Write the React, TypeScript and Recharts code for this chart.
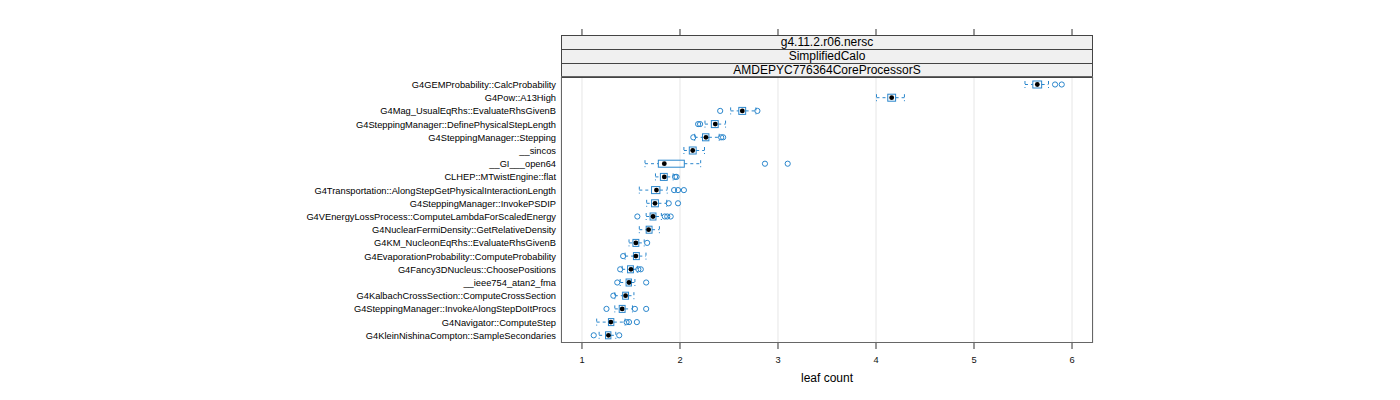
import React from "react";
import { Bar, CartesianGrid, ComposedChart, XAxis, YAxis } from "recharts";

const categories = [
  "G4GEMProbability::CalcProbability",
  "G4Pow::A13High",
  "G4Mag_UsualEqRhs::EvaluateRhsGivenB",
  "G4SteppingManager::DefinePhysicalStepLength",
  "G4SteppingManager::Stepping",
  "__sincos",
  "__GI___open64",
  "CLHEP::MTwistEngine::flat",
  "G4Transportation::AlongStepGetPhysicalInteractionLength",
  "G4SteppingManager::InvokePSDIP",
  "G4VEnergyLossProcess::ComputeLambdaForScaledEnergy",
  "G4NuclearFermiDensity::GetRelativeDensity",
  "G4KM_NucleonEqRhs::EvaluateRhsGivenB",
  "G4EvaporationProbability::ComputeProbability",
  "G4Fancy3DNucleus::ChoosePositions",
  "__ieee754_atan2_fma",
  "G4KalbachCrossSection::ComputeCrossSection",
  "G4SteppingManager::InvokeAlongStepDoItProcs",
  "G4Navigator::ComputeStep",
  "G4KleinNishinaCompton::SampleSecondaries",
];

const lowerWhisker = [5.52, 4.005, 2.517, 2.255, 2.15, 2.04, 1.643, 1.75, 1.585, 1.66, 1.655, 1.585, 1.48, 1.44, 1.41, 1.39, 1.335, 1.335, 1.15, 1.175];
const lowerQuartile = [5.6, 4.12, 2.6, 2.32, 2.23, 2.095, 1.779, 1.8, 1.71, 1.71, 1.695, 1.655, 1.52, 1.525, 1.465, 1.45, 1.415, 1.38, 1.27, 1.24];
const medians = [5.646, 4.16, 2.636, 2.36, 2.265, 2.13, 1.84, 1.84, 1.76, 1.745, 1.725, 1.68, 1.55, 1.55, 1.5, 1.48, 1.445, 1.41, 1.295, 1.27];
const upperQuartile = [5.69, 4.2, 2.67, 2.39, 2.295, 2.165, 2.044, 1.87, 1.795, 1.78, 1.755, 1.715, 1.58, 1.585, 1.525, 1.505, 1.475, 1.44, 1.325, 1.295];
const upperWhisker = [5.76, 4.29, 2.775, 2.465, 2.4, 2.25, 2.211, 1.93, 1.87, 1.865, 1.81, 1.79, 1.635, 1.653, 1.565, 1.54, 1.53, 1.515, 1.44, 1.345];
const outliers = [
  [5.827, 5.895],
  [],
  [2.41, 2.79],
  [2.185, 2.205],
  [2.136, 2.42, 2.44],
  [],
  [2.867, 3.099],
  [1.95, 1.965],
  [1.94, 1.98, 2.04],
  [1.885, 1.98],
  [1.565, 1.845, 1.87, 1.905],
  [],
  [1.665],
  [1.42],
  [1.39, 1.575, 1.6],
  [1.36, 1.655],
  [1.32],
  [1.25, 1.54, 1.655],
  [1.455, 1.48, 1.56],
  [1.12, 1.38],
];

const xTicks = [1, 2, 3, 4, 5, 6];
const strips = ["g4.11.2.r06.nersc", "SimplifiedCalo", "AMDEPYC776364CoreProcessorS"];

const rows = categories.map((name, i) => ({
  name,
  wl: lowerWhisker[i],
  q1: lowerQuartile[i],
  med: medians[i],
  q3: upperQuartile[i],
  wh: upperWhisker[i],
  out: outliers[i],
}));

const BLUE = "#2a86cc";

function BoxShape(props: any) {
  const { x, y, width, height, payload } = props;
  if (x == null || width == null) return null;
  const x0 = width >= 0 ? x : x + width;
  const w = Math.abs(width);
  const lo = payload.wl;
  const hi = payload.wh;
  const px = (v: number) => x0 + ((v - lo) / (hi - lo)) * w;
  const cy = y + height / 2;
  const dash = "3 3";
  return (
    <g>
      <line x1={px(payload.wl)} x2={px(payload.q1)} y1={cy} y2={cy} stroke={BLUE} strokeDasharray={dash} />
      <line x1={px(payload.q3)} x2={px(payload.wh)} y1={cy} y2={cy} stroke={BLUE} strokeDasharray={dash} />
      <line x1={px(payload.wl)} x2={px(payload.wl)} y1={y} y2={y + height} stroke={BLUE} strokeDasharray={dash} />
      <line x1={px(payload.wh)} x2={px(payload.wh)} y1={y} y2={y + height} stroke={BLUE} strokeDasharray={dash} />
      <rect x={px(payload.q1)} y={y} width={px(payload.q3) - px(payload.q1)} height={height} fill="none" stroke={BLUE} />
      <circle cx={px(payload.med)} cy={cy} r={2.4} fill="#000" />
      {payload.out.map((v: number, k: number) => (
        <circle key={k} cx={px(v)} cy={cy} r={2.6} fill="none" stroke={BLUE} />
      ))}
    </g>
  );
}

function TopTick(props: any) {
  const { x } = props;
  return <line x1={x} x2={x} y1={21} y2={27} stroke="#333" />;
}

export default function App() {
  return (
    <div style={{ position: "relative", width: 1392, height: 392, fontFamily: "'Liberation Sans', Arial, sans-serif" }}>
      <ComposedChart
        width={1392}
        height={392}
        data={rows}
        layout="vertical"
        margin={{ top: 63, right: 307, bottom: 0, left: 0 }}
      >
        <CartesianGrid horizontal={false} stroke="#e6e6e6" />
        <XAxis
          type="number"
          domain={[0.786, 6.214]}
          ticks={xTicks}
          allowDataOverflow
          axisLine={false}
          tickSize={6}
          tickMargin={7}
          tickLine={{ stroke: "#333" }}
          tick={{ fontSize: 9.3, fill: "#111" }}
          height={57}
          label={{ value: "leaf count", position: "insideBottom", offset: 18, fontSize: 12, fill: "#000" }}
        />
        <XAxis
          xAxisId="top"
          orientation="top"
          type="number"
          domain={[0.786, 6.214]}
          ticks={xTicks}
          allowDataOverflow
          axisLine={false}
          tickLine={false}
          height={6}
          tick={<TopTick />}
        />
        <YAxis
          type="category"
          dataKey="name"
          width={553}
          interval={0}
          axisLine={false}
          tickLine={false}
          tickSize={5}
          tickMargin={0}
          padding={{ top: 1, bottom: 1 }}
          tick={{ fontSize: 9.3, fill: "#000" }}
        />
        <Bar
          dataKey={(d: any) => [d.wl, d.wh]}
          barSize={7}
          shape={<BoxShape />}
          isAnimationActive={false}
        />
      </ComposedChart>
      {strips.map((s, i) => (
        <div
          key={s}
          style={{
            position: "absolute",
            left: 553,
            top: 27 + i * 14,
            width: 532,
            height: 15,
            boxSizing: "border-box",
            border: "1px solid #444",
            background: "#f0f0f0",
            fontSize: 12,
            lineHeight: "13px",
            textAlign: "center",
            color: "#000",
          }}
        >
          {s}
        </div>
      ))}
      <div
        style={{
          position: "absolute",
          left: 553,
          top: 68,
          width: 532,
          height: 267,
          boxSizing: "border-box",
          border: "1px solid #666",
          pointerEvents: "none",
        }}
      />
    </div>
  );
}
